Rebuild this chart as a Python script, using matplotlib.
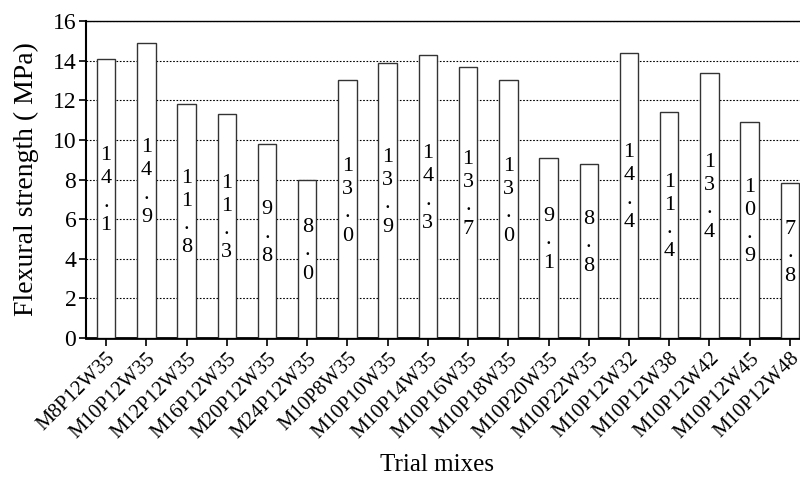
import numpy as np
import matplotlib.pyplot as plt

plt.rcParams['font.family'] = ['Liberation Serif', 'DejaVu Serif']

mixes = ['M8P12W35', 'M10P12W35', 'M12P12W35', 'M16P12W35', 'M20P12W35', 'M24P12W35',
         'M10P8W35', 'M10P10W35', 'M10P14W35', 'M10P16W35', 'M10P18W35', 'M10P20W35',
         'M10P22W35', 'M10P12W32', 'M10P12W38', 'M10P12W42', 'M10P12W45', 'M10P12W48']
strength = [14.1, 14.9, 11.8, 11.3, 9.8, 8.0, 13.0, 13.9, 14.3, 13.7, 13.0, 9.1,
            8.8, 14.4, 11.4, 13.4, 10.9, 7.8]

fig = plt.figure(figsize=(8, 4.96), dpi=100)
ax = fig.add_axes([0.1075, 0.3185, 0.905, 0.6392])

x = np.arange(len(mixes))
ax.bar(x, strength, width=0.46, color='white', edgecolor='#333333', linewidth=1.0, zorder=3)

for xi, v in zip(x, strength):
    lab = '\n'.join(f'{v:.1f}')
    ax.text(xi, v * 0.5 + 0.4, lab, ha='center', va='center', fontsize=16,
            linespacing=1.3, zorder=4)

ax.set_xlim(-0.5, len(mixes) - 0.5)
ax.set_ylim(0, 16)
ax.set_yticks(range(0, 17, 2))
ax.set_xticks(x)
ax.set_xticklabels(mixes, rotation=45, ha='right', rotation_mode='anchor', fontsize=15)
ax.tick_params(axis='y', labelsize=17, direction='out', length=5, width=1.2, pad=2)
ax.tick_params(axis='x', direction='out', length=6, width=1.2, pad=2)
ax.yaxis.grid(True, linestyle=(0, (1.5, 1.5)), color='black', linewidth=0.8, zorder=0)

ax.spines['right'].set_visible(False)
ax.spines['top'].set_linewidth(1.0)
ax.spines['left'].set_linewidth(1.5)
ax.spines['bottom'].set_linewidth(2.0)

ax.set_ylabel('Flexural strength ( MPa)', fontsize=20, labelpad=10)
fig.text(437 / 800, 1 - 465 / 496, 'Trial mixes', ha='center', va='center', fontsize=18)

fig.savefig('out.png', dpi=100)
